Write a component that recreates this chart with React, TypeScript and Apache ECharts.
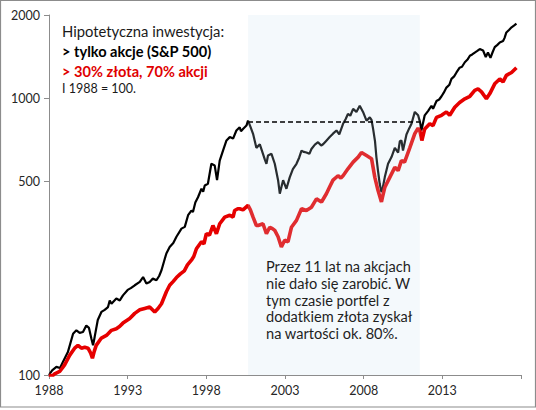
import React, { useEffect, useRef } from "react";
import * as echarts from "echarts";

// ---- Data (decimal years, index 1988 = 100) ----
const spDates = [
  1988.0, 1988.2, 1988.47, 1988.7, 1988.9, 1989.2, 1989.53, 1989.74, 1989.95, 1990.16,
  1990.37, 1990.54, 1990.7, 1990.8, 1990.9, 1991.1, 1991.33, 1991.54, 1991.75, 1991.86,
  1991.97, 1992.28, 1992.5, 1992.7, 1993.0, 1993.2, 1993.45, 1993.77, 1993.98, 1994.19,
  1994.4, 1994.6, 1994.83, 1995.0, 1995.15, 1995.36, 1995.46, 1995.67, 1995.9, 1996.1,
  1996.42, 1996.63, 1996.84, 1997.05, 1997.15, 1997.3, 1997.47, 1997.69, 1997.8, 1997.9,
  1998.1, 1998.32, 1998.53, 1998.68, 1998.85, 1999.06, 1999.28, 1999.49, 1999.7, 1999.91,
  2000.12, 2000.2, 2000.33, 2000.55, 2000.65, 2000.8, 2000.97, 2001.18, 2001.4, 2001.6,
  2001.72, 2001.82, 2001.92, 2002.14, 2002.35, 2002.56, 2002.67, 2002.78, 2002.88, 2003.09,
  2003.3, 2003.5, 2003.73, 2003.9, 2004.05, 2004.2, 2004.36, 2004.55, 2004.68, 2004.9,
  2005.1, 2005.3, 2005.42, 2005.6, 2005.84, 2006.05, 2006.27, 2006.45, 2006.69, 2006.85,
  2007.0, 2007.15, 2007.33, 2007.54, 2007.75, 2007.96, 2008.18, 2008.39, 2008.5, 2008.6,
  2008.72, 2008.81, 2008.91, 2009.02, 2009.13, 2009.2, 2009.34, 2009.55, 2009.77, 2009.98,
  2010.19, 2010.3, 2010.4, 2010.5, 2010.72, 2010.9, 2011.04, 2011.25, 2011.46, 2011.58,
  2011.67, 2011.88, 2012.1, 2012.31, 2012.41, 2012.63, 2012.8, 2012.95, 2013.1, 2013.26,
  2013.45, 2013.58, 2013.75, 2013.9, 2014.1, 2014.25, 2014.43, 2014.6, 2014.75, 2014.9,
  2015.06, 2015.2, 2015.38, 2015.59, 2015.76, 2015.9, 2016.06, 2016.2, 2016.33, 2016.5,
  2016.65, 2016.86, 2016.95, 2017.07, 2017.25, 2017.4, 2017.55, 2017.71,
];
const spValues = [
  100, 104, 107, 106, 112, 121, 141, 145, 142, 143,
  151, 148, 135, 128, 137, 158, 169, 172, 176, 186,
  181, 189, 186, 194, 203, 206, 211, 217, 226, 214,
  217, 223, 220, 228, 239, 263, 275, 290, 300, 316,
  338, 343, 378, 393, 388, 420, 439, 471, 460, 484,
  491, 580, 572, 506, 595, 647, 704, 724, 715, 765,
  786, 760, 775, 797, 830, 790, 744, 662, 682, 630,
  600, 580, 621, 630, 580, 506, 452, 480, 506, 471,
  518, 555, 580, 610, 647, 640, 637, 630, 656, 680,
  694, 675, 682, 700, 724, 745, 765, 740, 809, 840,
  878, 865, 916, 893, 940, 893, 830, 853, 835, 775,
  700, 613, 548, 491, 458, 470, 518, 580, 613, 662,
  637, 700, 704, 647, 740, 780, 809, 893, 868, 820,
  765, 868, 901, 940, 916, 978, 990, 1017, 1050, 1093,
  1120, 1175, 1200, 1240, 1290, 1300, 1350, 1380, 1425, 1440,
  1463, 1480, 1506, 1488, 1410, 1463, 1400, 1470, 1530, 1560,
  1590, 1610, 1650, 1730, 1770, 1805, 1830, 1860,
];

const goldMixDates = [
  1988.0, 1988.2, 1988.36, 1988.68, 1988.85, 1989.0, 1989.32, 1989.63, 1989.84, 1990.06,
  1990.27, 1990.48, 1990.65, 1990.76, 1990.88, 1991.0, 1991.33, 1991.65, 1991.97, 1992.28,
  1992.5, 1992.7, 1993.13, 1993.45, 1993.77, 1994.08, 1994.4, 1994.72, 1994.93, 1995.15,
  1995.46, 1995.67, 1995.9, 1996.1, 1996.35, 1996.6, 1996.8, 1997.05, 1997.2, 1997.37,
  1997.69, 1997.85, 1998.0, 1998.2, 1998.42, 1998.64, 1998.85, 1999.17, 1999.49, 1999.7,
  1999.8, 2000.0, 2000.12, 2000.33, 2000.65, 2000.8, 2000.97, 2001.18, 2001.29, 2001.6,
  2001.82, 2002.03, 2002.2, 2002.35, 2002.56, 2002.77, 2002.98, 2003.19, 2003.41, 2003.73,
  2004.05, 2004.36, 2004.68, 2005.0, 2005.32, 2005.63, 2005.85, 2006.05, 2006.37, 2006.55,
  2006.69, 2007.0, 2007.33, 2007.65, 2007.86, 2008.18, 2008.5, 2008.71, 2008.91, 2009.13,
  2009.2, 2009.34, 2009.66, 2009.98, 2010.19, 2010.4, 2010.6, 2010.93, 2011.25, 2011.46,
  2011.58, 2011.7, 2011.88, 2012.2, 2012.41, 2012.63, 2012.95, 2013.26, 2013.47, 2013.79,
  2014.1, 2014.43, 2014.75, 2015.06, 2015.27, 2015.49, 2015.8, 2016.02, 2016.33, 2016.65,
  2016.86, 2017.07, 2017.4, 2017.71,
];
const goldMixValues = [
  100, 99, 101, 103, 106, 109, 118, 125, 128, 125,
  126, 125, 120, 115, 122, 128, 136, 139, 145, 147,
  150, 154, 160, 167, 172, 174, 176, 169, 174, 181,
  200, 211, 218, 225, 232, 238, 250, 260, 268, 286,
  303, 298, 324, 320, 347, 324, 352, 372, 378, 372,
  393, 399, 399, 395, 410, 395, 372, 347, 347, 352,
  324, 342, 338, 333, 316, 290, 307, 303, 342, 362,
  399, 393, 404, 433, 422, 452, 480, 506, 525, 515,
  525, 556, 588, 613, 637, 621, 605, 518, 465, 422,
  440, 476, 518, 563, 548, 595, 588, 662, 745, 780,
  760, 704, 775, 809, 797, 853, 868, 893, 868, 928,
  966, 996, 1017, 1068, 1081, 1055, 996, 1040, 1128, 1175,
  1146, 1210, 1240, 1290,
];

const stagnationStart = 2000.65;
const stagnationEnd = 2011.57;
const stagnationLevel = 824;
const shadeTop = 2100;

const yTickValues = [100, 500, 1000, 2000];
const xMin = 1988;
const xMax = 2018;
const xStep = 5;

const legendLines = [
  "Hipotetyczna inwestycja:",
  "> tylko akcje (S&P 500)",
  "> 30% złota, 70% akcji",
  "I 1988 = 100.",
];
const noteText = [
  "Przez 11 lat na akcjach",
  "nie dało się zarobić. W",
  "tym czasie portfel z",
  "dodatkiem złota zyskał",
  "na wartości ok. 80%.",
].join("\n");

const FONT = "Lato, 'Open Sans', sans-serif";

export default function App() {
  const ref = useRef<HTMLDivElement>(null);
  useEffect(() => {
    if (!ref.current) return;
    const chart = echarts.init(ref.current, undefined, { renderer: "svg" });
    const sp = spDates.map((d, i) => [d, spValues[i]]);
    const gm = goldMixDates.map((d, i) => [d, goldMixValues[i]]);
    chart.setOption({
      animation: false,
      backgroundColor: "#ffffff",
      grid: { left: 49, right: 15, top: 15, bottom: 35 },
      xAxis: {
        type: "value",
        min: xMin,
        max: xMax,
        interval: xStep,
        axisLine: { show: true, lineStyle: { color: "#8c8c8c", width: 1 } },
        axisTick: { show: true, length: 4, lineStyle: { color: "#8c8c8c" } },
        splitLine: { show: false },
        axisLabel: {
          margin: 9,
          color: "#262626",
          fontFamily: FONT,
          fontSize: 12.5,
          formatter: (v: number) => (v === xMax ? "" : String(v)),
        },
      },
      yAxis: {
        type: "log",
        logBase: 10,
        min: 100,
        max: 2000,
        axisLine: { show: true, lineStyle: { color: "#8c8c8c", width: 1 } },
        axisTick: {
          show: true,
          length: 5,
          customValues: yTickValues,
          lineStyle: { color: "#8c8c8c" },
        },
        minorTick: { show: false },
        splitLine: { show: false },
        axisLabel: {
          margin: 9,
          color: "#262626",
          fontFamily: FONT,
          fontSize: 12.5,
          customValues: yTickValues,
          formatter: (v: number) => String(Math.round(v)),
        },
      },
      series: [
        {
          name: "S&P 500",
          type: "line",
          data: sp,
          showSymbol: false,
          z: 2,
          lineStyle: { color: "#000000", width: 2.2 },
          itemStyle: { color: "#000000" },
        },
        {
          name: "30% złota, 70% akcji",
          type: "line",
          data: gm,
          showSymbol: false,
          z: 3,
          lineStyle: { color: "#e60000", width: 3.6 },
          itemStyle: { color: "#e60000" },
        },
        {
          name: "shade",
          type: "line",
          data: [],
          z: 5,
          clip: false,
          silent: true,
          markArea: {
            silent: true,
            z: 10,
            itemStyle: { color: "rgba(200,225,240,0.2)" },
            data: [
              [
                { xAxis: stagnationStart, yAxis: 100 },
                { xAxis: stagnationEnd, yAxis: shadeTop },
              ],
            ],
          },
          markLine: {
            silent: true,
            z: 11,
            symbol: ["none", "none"],
            label: { show: false },
            lineStyle: { color: "#000000", type: [5, 3], width: 1.5 },
            data: [
              [
                { coord: [stagnationStart, stagnationLevel] },
                { coord: [stagnationEnd, stagnationLevel] },
              ],
            ],
          },
        },
      ],
      graphic: [
        {
          type: "rect",
          z: 100,
          silent: true,
          shape: { x: 0.5, y: 0.5, width: 535, height: 406.5 },
          style: { fill: "none", stroke: "#8c8c8c", lineWidth: 1.2 },
        },
        {
          type: "text",
          z: 100,
          style: {
            x: 62, y: 31, text: legendLines[0], fill: "#1a1a1a",
            font: `14.8px ${FONT}`, textVerticalAlign: "middle",
          },
        },
        {
          type: "text",
          z: 100,
          style: {
            x: 62, y: 51.5, text: legendLines[1], fill: "#000000",
            font: `bold 14.6px ${FONT}`, textVerticalAlign: "middle",
          },
        },
        {
          type: "text",
          z: 100,
          style: {
            x: 62, y: 71, text: legendLines[2], fill: "#e00000",
            font: `bold 14.6px ${FONT}`, textVerticalAlign: "middle",
          },
        },
        {
          type: "text",
          z: 100,
          style: {
            x: 62, y: 88.5, text: legendLines[3], fill: "#1a1a1a",
            font: `12.5px ${FONT}`, textVerticalAlign: "middle",
          },
        },
        {
          type: "text",
          z: 100,
          style: {
            x: 266, y: 258.5, text: noteText, fill: "#1f1f1f",
            font: `14.6px ${FONT}`, lineHeight: 16.7, textVerticalAlign: "top",
          },
        },
      ],
    });
    return () => chart.dispose();
  }, []);
  return (
    <div
      ref={ref}
      style={{ position: "fixed", left: 0, top: 0, width: 536, height: 410 }}
    />
  );
}
